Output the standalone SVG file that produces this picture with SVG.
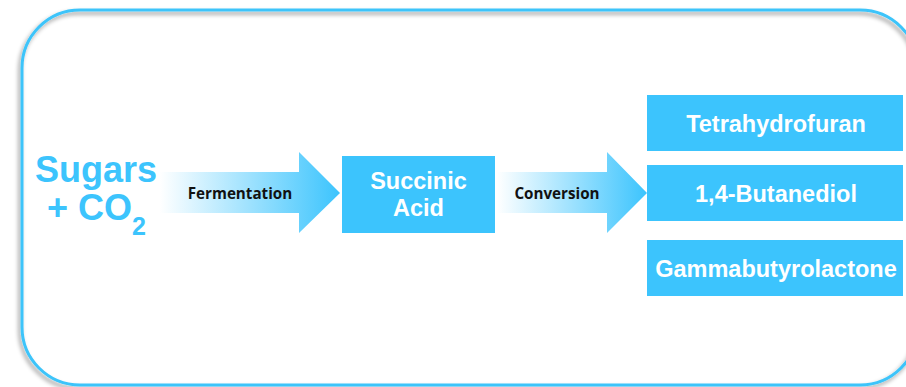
<svg xmlns="http://www.w3.org/2000/svg" width="906" height="387" viewBox="0 0 906 387">
<style>
.box{fill:#3cc4fd}
.wt{fill:#ffffff;font-family:"Liberation Sans",Arial,sans-serif;font-weight:bold;font-size:23.5px;text-anchor:middle}
.lbl{fill:#111111;font-family:"Open Sans","Liberation Sans",sans-serif;font-weight:bold;font-size:15.2px;text-anchor:middle}
.src{fill:#3cc4fd;font-family:"Liberation Sans",Arial,sans-serif;font-weight:bold;font-size:36px}
</style>
<defs>
<filter id="sh" x="-5%" y="-5%" width="110%" height="110%">
<feDropShadow dx="-2" dy="3" stdDeviation="2" flood-color="#000000" flood-opacity="0.4"/>
</filter>
<linearGradient id="g1" gradientUnits="userSpaceOnUse" x1="160" y1="0" x2="340" y2="0">
<stop offset="0" stop-color="#ffffff"/>
<stop offset="1" stop-color="#3cc4fd"/>
</linearGradient>
<linearGradient id="g2" gradientUnits="userSpaceOnUse" x1="497" y1="0" x2="647" y2="0">
<stop offset="0" stop-color="#ffffff"/>
<stop offset="1" stop-color="#3cc4fd"/>
</linearGradient>
</defs>
<rect id="frame" x="22" y="10" width="896" height="375" rx="58" ry="58" fill="none" stroke="#3cc4fa" stroke-width="3" filter="url(#sh)"/>
<g id="connectors">
<g id="arrow-fermentation">
<polygon points="160,172 299,172 299,152 340,193 299,233 299,213 160,213" fill="url(#g1)"/>
<text class="lbl" x="240" y="199">Fermentation</text>
</g>
<g id="arrow-conversion">
<polygon points="497,172 607,172 607,152 647,193 607,233 607,213 497,213" fill="url(#g2)"/>
<text class="lbl" x="557" y="199">Conversion</text>
</g>
</g>
<g id="node-sugars">
<text class="src" x="96" y="182" text-anchor="middle">Sugars</text>
<text class="src" x="47" y="220">+ CO<tspan font-size="25px" dy="15">2</tspan></text>
</g>
<g id="node-succinic">
<rect class="box" x="342" y="156" width="153" height="77"/>
<text class="wt" x="418.5" y="189">Succinic</text>
<text class="wt" x="418.5" y="216">Acid</text>
</g>
<g id="node-thf">
<rect class="box" x="647" y="95" width="256" height="56"/>
<text class="wt" x="776" y="132">Tetrahydrofuran</text>
</g>
<g id="node-bdo">
<rect class="box" x="647" y="165" width="256" height="56"/>
<text class="wt" x="776" y="202">1,4-Butanediol</text>
</g>
<g id="node-gbl">
<rect class="box" x="647" y="240" width="256" height="56"/>
<text class="wt" x="776" y="277">Gammabutyrolactone</text>
</g>
</svg>
